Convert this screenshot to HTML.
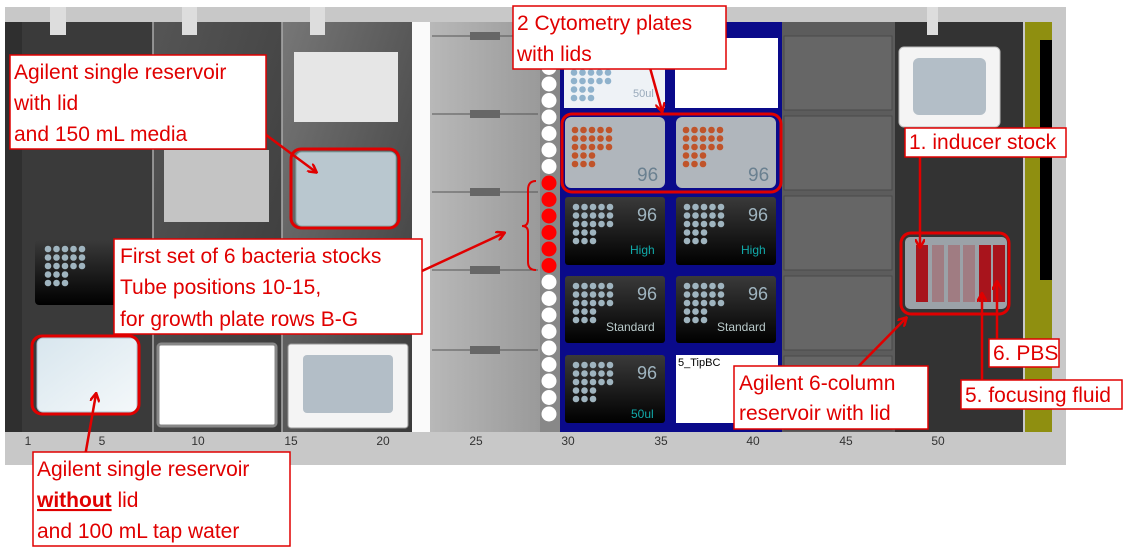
<!DOCTYPE html>
<html><head><meta charset="utf-8"><style>
html,body{margin:0;padding:0;background:#fff;}
svg{display:block}
text{font-family:"Liberation Sans",sans-serif;}
.lb{font-size:21px;fill:#e00000;}
</style></head><body>
<svg width="1128" height="550" viewBox="0 0 1128 550" xmlns="http://www.w3.org/2000/svg">
<defs>
<g id="grid">
<circle cx="4" cy="4" r="3.3"/><circle cx="12.5" cy="4" r="3.3"/><circle cx="21" cy="4" r="3.3"/><circle cx="29.5" cy="4" r="3.3"/><circle cx="38" cy="4" r="3.3"/>
<circle cx="4" cy="12.5" r="3.3"/><circle cx="12.5" cy="12.5" r="3.3"/><circle cx="21" cy="12.5" r="3.3"/><circle cx="29.5" cy="12.5" r="3.3"/><circle cx="38" cy="12.5" r="3.3"/>
<circle cx="4" cy="21" r="3.3"/><circle cx="12.5" cy="21" r="3.3"/><circle cx="21" cy="21" r="3.3"/><circle cx="29.5" cy="21" r="3.3"/><circle cx="38" cy="21" r="3.3"/>
<circle cx="4" cy="29.5" r="3.3"/><circle cx="12.5" cy="29.5" r="3.3"/><circle cx="21" cy="29.5" r="3.3"/>
<circle cx="4" cy="38" r="3.3"/><circle cx="12.5" cy="38" r="3.3"/><circle cx="21" cy="38" r="3.3"/>
</g>
<linearGradient id="g2" x1="0" y1="0" x2="1" y2="1"><stop offset="0" stop-color="#555"/><stop offset="1" stop-color="#3a3a3a"/></linearGradient>
<linearGradient id="g3" x1="0" y1="0" x2="1" y2="1"><stop offset="0" stop-color="#777"/><stop offset="1" stop-color="#3a3a3a"/></linearGradient>
<linearGradient id="g4" x1="0" y1="0" x2="1" y2="0"><stop offset="0" stop-color="#b8b8b8"/><stop offset="1" stop-color="#9a9a9a"/></linearGradient>
<linearGradient id="res" x1="0" y1="0" x2="1" y2="1"><stop offset="0" stop-color="#d8e6ee"/><stop offset="1" stop-color="#f4f8fa"/></linearGradient>
<linearGradient id="blk" x1="0" y1="0" x2="0" y2="1"><stop offset="0" stop-color="#3a3a3a"/><stop offset="1" stop-color="#000"/></linearGradient>
<marker id="ar" markerWidth="10" markerHeight="10" refX="8" refY="5" orient="auto" markerUnits="userSpaceOnUse"><path d="M0,0 L9,5 L0,10" fill="none" stroke="#e00000" stroke-width="2.5"/></marker>
</defs>
<rect x="5" y="7" width="1061" height="458" fill="#c8c8c8"/>
<rect x="5" y="22" width="148" height="410" fill="#2f2f2f"/>
<rect x="22" y="22" width="131" height="410" fill="#3a3a3a"/>
<rect x="153" y="22" width="129" height="410" fill="url(#g2)"/>
<rect x="282" y="22" width="130" height="410" fill="url(#g3)"/>
<line x1="153" y1="22" x2="153" y2="432" stroke="#aaa" stroke-width="1.5"/>
<line x1="282" y1="22" x2="282" y2="432" stroke="#aaa" stroke-width="1.5"/>
<rect x="412" y="22" width="18" height="410" fill="#fafafa"/>
<rect x="430" y="22" width="110" height="410" fill="url(#g4)"/>
<g stroke="#555" stroke-width="1"><line x1="432" y1="36" x2="538" y2="36"/><line x1="432" y1="114" x2="538" y2="114"/><line x1="432" y1="192" x2="538" y2="192"/><line x1="432" y1="270" x2="538" y2="270"/><line x1="432" y1="350" x2="538" y2="350"/></g>
<g fill="#666"><rect x="470" y="32" width="30" height="8"/><rect x="470" y="110" width="30" height="8"/><rect x="470" y="188" width="30" height="8"/><rect x="470" y="266" width="30" height="8"/><rect x="470" y="346" width="30" height="8"/></g>
<rect x="540" y="22" width="20" height="410" fill="#888"/>
<rect x="560" y="22" width="222" height="410" fill="#0a0a8a"/>
<rect x="782" y="22" width="113" height="410" fill="#5c5c5c"/>
<g fill="#666" stroke="#4a4a4a"><rect x="784" y="36" width="108" height="74"/><rect x="784" y="116" width="108" height="74"/><rect x="784" y="196" width="108" height="74"/><rect x="784" y="276" width="108" height="74"/><rect x="784" y="356" width="108" height="74"/></g>
<rect x="895" y="22" width="128" height="410" fill="#333"/>
<rect x="1025" y="22" width="27" height="410" fill="#8f8f10"/>
<rect x="1040" y="40" width="12" height="240" fill="#000"/>
<g fill="#ddd"><rect x="50" y="7" width="16" height="28"/><rect x="182" y="7" width="15" height="28"/><rect x="310" y="7" width="15" height="28"/><rect x="927" y="7" width="11" height="28"/></g>
<rect x="294" y="52" width="104" height="70" fill="#e6e6e6"/>
<rect x="164" y="150" width="105" height="72" fill="#c4c4c4"/>
<rect x="35" y="240" width="115" height="65" rx="4" fill="url(#blk)"/>
<use href="#grid" x="44" y="245" fill="#9fb4bf"/>
<rect x="37" y="338" width="100" height="74" rx="6" fill="url(#res)" stroke="#a9c3d0"/>
<rect x="296" y="152" width="100" height="74" rx="6" fill="#b9c7cf" stroke="#8aa"/>
<rect x="158" y="344" width="118" height="82" rx="3" fill="#fff" stroke="#888" stroke-width="3"/>
<rect x="288" y="344" width="120" height="84" rx="3" fill="#f4f4f4" stroke="#999"/>
<rect x="303" y="355" width="90" height="58" rx="4" fill="#b3bec7"/>
<g stroke="#888" stroke-width="1" fill="#fff">
<circle cx="549" cy="51" r="8"/><circle cx="549" cy="67.5" r="8"/><circle cx="549" cy="84" r="8"/><circle cx="549" cy="100.5" r="8"/><circle cx="549" cy="117" r="8"/><circle cx="549" cy="133.5" r="8"/><circle cx="549" cy="150" r="8"/><circle cx="549" cy="166.5" r="8"/>
<circle cx="549" cy="183" r="8" fill="#f00"/><circle cx="549" cy="199.5" r="8" fill="#f00"/><circle cx="549" cy="216" r="8" fill="#f00"/><circle cx="549" cy="232.5" r="8" fill="#f00"/><circle cx="549" cy="249" r="8" fill="#f00"/><circle cx="549" cy="265.5" r="8" fill="#f00"/>
<circle cx="549" cy="282" r="8"/><circle cx="549" cy="298.5" r="8"/><circle cx="549" cy="315" r="8"/><circle cx="549" cy="331.5" r="8"/><circle cx="549" cy="348" r="8"/><circle cx="549" cy="364.5" r="8"/><circle cx="549" cy="381" r="8"/><circle cx="549" cy="397.5" r="8"/><circle cx="549" cy="414" r="8"/>
</g>
<rect x="564" y="68" width="101" height="40" fill="#eef2f6"/>
<svg x="564" y="68" width="101" height="40"><use href="#grid" x="6" y="-8" fill="#8fb2cc"/></svg>
<text x="633" y="97" font-size="11" fill="#9ab">50ul</text>
<rect x="675" y="38" width="103" height="70" fill="#fff"/>
<rect x="565" y="117" width="100" height="71" rx="6" fill="#b0b6bc"/>
<rect x="676" y="117" width="100" height="71" rx="6" fill="#b0b6bc"/>
<use href="#grid" x="571" y="126" fill="#c0542a"/>
<use href="#grid" x="682" y="126" fill="#c0542a"/>
<text x="637" y="181" font-size="19" fill="#6a8090">96</text><text x="748" y="181" font-size="19" fill="#6a8090">96</text>
<rect x="565" y="197" width="100" height="68" rx="3" fill="url(#blk)"/><rect x="676" y="197" width="100" height="68" rx="3" fill="url(#blk)"/>
<rect x="565" y="276" width="100" height="67" rx="3" fill="url(#blk)"/><rect x="676" y="276" width="100" height="67" rx="3" fill="url(#blk)"/>
<rect x="565" y="355" width="100" height="68" rx="3" fill="url(#blk)"/>
<rect x="676" y="355" width="102" height="68" fill="#fff"/>
<g fill="#9fb4bf">
<use href="#grid" x="572" y="203"/><use href="#grid" x="683" y="203"/>
<use href="#grid" x="572" y="282"/><use href="#grid" x="683" y="282"/>
<use href="#grid" x="572" y="361"/>
</g>
<g font-size="18" fill="#9fb4bf"><text x="637" y="221">96</text><text x="748" y="221">96</text><text x="637" y="300">96</text><text x="748" y="300">96</text><text x="637" y="379">96</text></g>
<g font-size="12" fill="#1aa"><text x="630" y="254">High</text><text x="741" y="254">High</text><text x="631" y="418">50ul</text></g>
<g font-size="12" fill="#bcc"><text x="606" y="331">Standard</text><text x="717" y="331">Standard</text></g>
<text x="678" y="366" font-size="11" fill="#000">5_TipBC</text>
<rect x="899" y="47" width="101" height="80" rx="5" fill="#f4f4f4" stroke="#bbb"/>
<rect x="913" y="58" width="73" height="57" rx="6" fill="#b3bec7"/>
<rect x="905" y="237" width="102" height="72" rx="5" fill="#9ba2a8"/>
<rect x="916" y="245" width="12" height="57" fill="#a8141c"/>
<rect x="932" y="245" width="12" height="57" fill="#a07c82"/>
<rect x="948" y="245" width="12" height="57" fill="#a07c82"/>
<rect x="963" y="245" width="12" height="57" fill="#a07c82"/>
<rect x="979" y="245" width="12" height="57" fill="#a8141c"/>
<rect x="993" y="245" width="12" height="57" fill="#a8141c"/>
<g font-size="12" fill="#333" text-anchor="middle"><text x="28" y="445">1</text><text x="102" y="445">5</text><text x="198" y="445">10</text><text x="291" y="445">15</text><text x="383" y="445">20</text><text x="476" y="445">25</text><text x="568" y="445">30</text><text x="661" y="445">35</text><text x="753" y="445">40</text><text x="846" y="445">45</text><text x="938" y="445">50</text></g>
<g fill="none" stroke="#e00000" stroke-width="3">
<rect x="291" y="149" width="108" height="79" rx="10"/>
<rect x="32" y="336" width="107" height="78" rx="10"/>
<rect x="562" y="114" width="219" height="78" rx="10"/>
<rect x="901" y="233" width="108" height="81" rx="10"/>
<path d="M536,181 Q528,181 528,190 L528,220 Q528,226 522,226 Q528,226 528,232 L528,262 Q528,270 536,270" stroke-width="2"/>
</g>
<g stroke="#e00000" stroke-width="2.5" fill="none" marker-end="url(#ar)">
<line x1="250" y1="123" x2="316" y2="172"/>
<line x1="396" y1="283" x2="504" y2="233"/>
<line x1="647" y1="57" x2="662" y2="111"/>
<line x1="84" y1="462" x2="96" y2="394"/>
<line x1="853" y1="372" x2="906" y2="318"/>
<line x1="920" y1="156" x2="920" y2="247"/>
<line x1="997" y1="341" x2="997" y2="282"/>
<line x1="982" y1="382" x2="982" y2="294"/>
</g>
<g fill="#fff" stroke="#e00000" stroke-width="1.5">
<rect x="10" y="55" width="256" height="94"/>
<rect x="513" y="6" width="213" height="63"/>
<rect x="114" y="239" width="308" height="95"/>
<rect x="33" y="452" width="257" height="94"/>
<rect x="905" y="128" width="161" height="29"/>
<rect x="989" y="339" width="70" height="28"/>
<rect x="961" y="380" width="161" height="29"/>
<rect x="734" y="366" width="194" height="63"/>
</g>
<g class="lb">
<text x="14" y="79">Agilent single reservoir</text><text x="14" y="110">with lid</text><text x="14" y="141">and 150 mL media</text>
<text x="517" y="30">2 Cytometry plates</text><text x="517" y="61">with lids</text>
<text x="120" y="263">First set of 6 bacteria stocks</text><text x="120" y="294">Tube positions 10-15,</text><text x="120" y="326">for growth plate rows B-G</text>
<text x="37" y="476">Agilent single reservoir</text><text x="37" y="507"><tspan font-weight="bold" text-decoration="underline">without</tspan> lid</text><text x="37" y="538">and 100 mL tap water</text>
<text x="909" y="149">1. inducer stock</text>
<text x="993" y="360">6. PBS</text>
<text x="965" y="402">5. focusing fluid</text>
<text x="739" y="390">Agilent 6-column</text><text x="739" y="420">reservoir with lid</text>
</g>
</svg>
</body></html>
